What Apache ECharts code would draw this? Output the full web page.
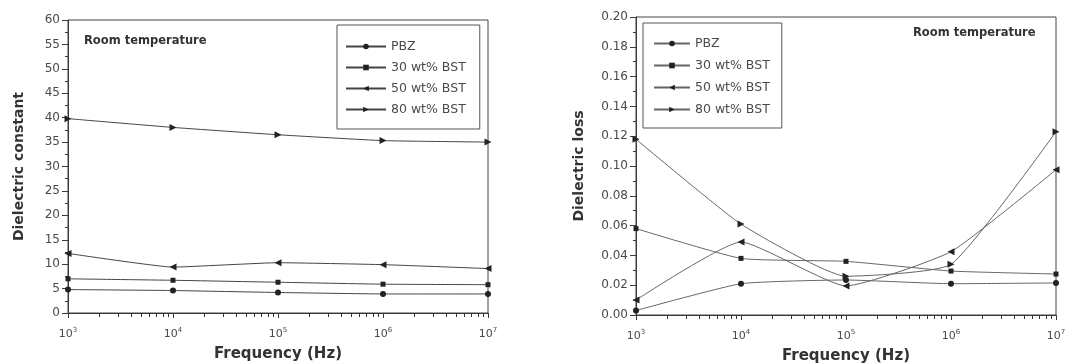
<!DOCTYPE html>
<html>
<head>
<meta charset="utf-8">
<script src="https://cdn.jsdelivr.net/npm/echarts@6/dist/echarts.min.js"></script>
<style>
  html, body { margin: 0; padding: 0; background: #fff; }
  #wrap { position: relative; width: 1065px; height: 364px; }
  #left { position: absolute; left: 0; top: 0; width: 532px; height: 364px; }
  #right { position: absolute; left: 532px; top: 0; width: 533px; height: 364px; }
</style>
</head>
<body>
<div id="wrap">
  <div id="left"></div>
  <div id="right"></div>
</div>
<script>
// Measurement frequencies (Hz)
const frequencies = [1e3, 1e4, 1e5, 1e6, 1e7];
const seriesNames = ['PBZ', '30 wt% BST', '50 wt% BST', '80 wt% BST'];

// Dielectric constant at room temperature
const constPBZ = [4.8, 4.6, 4.2, 3.9, 3.9];
const const30 = [7.0, 6.7, 6.3, 5.9, 5.8];
const const50 = [12.2, 9.4, 10.3, 9.9, 9.1];
const const80 = [39.8, 38.0, 36.5, 35.3, 35.0];

// Dielectric loss at room temperature
const lossPBZ = [0.003, 0.021, 0.0235, 0.021, 0.0215];
const loss30 = [0.058, 0.038, 0.036, 0.0295, 0.0275];
const loss50 = [0.010, 0.049, 0.0195, 0.0425, 0.0975];
const loss80 = [0.118, 0.061, 0.026, 0.034, 0.123];

// Axis ranges
const constAxis = { min: 0, max: 60, interval: 5 };
const lossAxis = { min: 0, max: 0.2, interval: 0.02 };
const freqRange = { min: 1e3, max: 1e7 };

const FONT = 'DejaVu Sans';
const TEXT = '#4a4a4a';
const AXIS = '#3a3a3a';

// Log minor tick positions: 2..9 x 10^n within each decade
const minorFreqs = [];
for (let e = 3; e < 7; e++) {
  for (let m = 2; m <= 9; m++) minorFreqs.push(m * Math.pow(10, e));
}

const symbols = [
  { symbol: 'circle', size: 6, rotate: 0 },
  { symbol: 'rect', size: 5, rotate: 0 },
  { symbol: 'triangle', size: 7, rotate: 90 },
  { symbol: 'triangle', size: 7, rotate: -90 }
];

function pair(values) {
  return frequencies.map((f, i) => [f, values[i]]);
}

function buildSeries(valueSets, lineColor, smooth) {
  return valueSets.map((vals, i) => ({
    name: seriesNames[i],
    type: 'line',
    data: pair(vals),
    smooth: smooth,
    symbol: symbols[i].symbol,
    symbolSize: symbols[i].size,
    symbolRotate: symbols[i].rotate,
    lineStyle: { color: lineColor, width: 1 },
    itemStyle: { color: '#222' },
    emphasis: { disabled: true },
    animation: false,
    z: 3
  }));
}

function expLabel(v) {
  const e = Math.round(Math.log10(v));
  return '{b|10}{s|' + e + '}';
}

function xAxes() {
  return [
    {
      type: 'log', logBase: 10, min: freqRange.min, max: freqRange.max,
      name: 'Frequency (Hz)', nameLocation: 'middle', nameGap: 34,
      nameTextStyle: { fontFamily: FONT, fontWeight: 'bold', fontSize: 15, color: '#333' },
      axisLine: { lineStyle: { color: AXIS, width: 1 } },
      axisTick: { show: true, length: 5, lineStyle: { color: AXIS } },
      splitLine: { show: false },
      axisLabel: {
        margin: 14,
        formatter: expLabel,
        rich: {
          b: { fontFamily: FONT, fontSize: 11, color: TEXT },
          s: { fontFamily: FONT, fontSize: 7, color: TEXT, verticalAlign: 'top', padding: [0, 0, 7, 0] }
        }
      }
    },
    {
      type: 'log', logBase: 10, min: freqRange.min, max: freqRange.max,
      position: 'bottom', offset: 0,
      axisLine: { show: false },
      axisLabel: { show: false },
      splitLine: { show: false },
      axisTick: { show: true, length: 4, customValues: minorFreqs, lineStyle: { color: '#333' } }
    }
  ];
}

function yAxis(range, title, fmt, nameGap) {
  return {
    type: 'value', min: range.min, max: range.max, interval: range.interval,
    name: title, nameLocation: 'middle', nameGap: nameGap,
    nameTextStyle: { fontFamily: FONT, fontWeight: 'bold', fontSize: 14, color: '#333' },
    axisLine: { show: true, lineStyle: { color: AXIS, width: 1 } },
    axisTick: { show: true, length: 6, lineStyle: { color: AXIS } },
    minorTick: { show: true, splitNumber: 2, length: 3, lineStyle: { color: AXIS } },
    splitLine: { show: false },
    minorSplitLine: { show: false },
    axisLabel: { margin: 8, fontFamily: FONT, fontSize: 12, color: TEXT, formatter: fmt }
  };
}

function legend(pos, itemWidth) {
  return {
    data: seriesNames,
    orient: 'vertical',
    left: pos.left, top: pos.top,
    padding: pos.padding,
    itemWidth: itemWidth, itemHeight: 7, itemGap: pos.gap,
    borderColor: '#555', borderWidth: 1,
    textStyle: { fontFamily: FONT, fontSize: 12.5, color: TEXT },
    selectedMode: false
  };
}

function roomTitle(left, top) {
  return {
    text: 'Room temperature', left: left, top: top, padding: 0,
    textStyle: { fontFamily: FONT, fontWeight: 'bold', fontSize: 11.5, color: '#333' }
  };
}

// Left panel: dielectric constant
const leftChart = echarts.init(document.getElementById('left'), null, { renderer: 'canvas' });
leftChart.setOption({
  animation: false,
  backgroundColor: '#fff',
  title: roomTitle(84, 35),
  grid: {
    left: 68, right: 44, top: 20, bottom: 51, outerBoundsMode: 'none',
    show: true, borderColor: '#444', borderWidth: 1
  },
  legend: legend({ left: 337, top: 25, padding: [15, 14, 13, 8], gap: 8 }, 40),
  xAxis: xAxes(),
  yAxis: yAxis(constAxis, 'Dielectric constant', v => String(v), 42),
  series: buildSeries([constPBZ, const30, const50, const80], '#444', 0.12)
});

// Right panel: dielectric loss
const rightChart = echarts.init(document.getElementById('right'), null, { renderer: 'canvas' });
rightChart.setOption({
  animation: false,
  backgroundColor: '#fff',
  title: roomTitle(381, 27),
  grid: {
    left: 104, right: 9, top: 17, bottom: 49, outerBoundsMode: 'none',
    show: true, borderColor: '#444', borderWidth: 1
  },
  legend: legend({ left: 111, top: 23, padding: [14, 12, 12, 10], gap: 9 }, 36),
  xAxis: xAxes(),
  yAxis: yAxis(lossAxis, 'Dielectric loss', v => v.toFixed(2), 50),
  series: buildSeries([lossPBZ, loss30, loss50, loss80], '#666', 0.15)
});
</script>
</body>
</html>
